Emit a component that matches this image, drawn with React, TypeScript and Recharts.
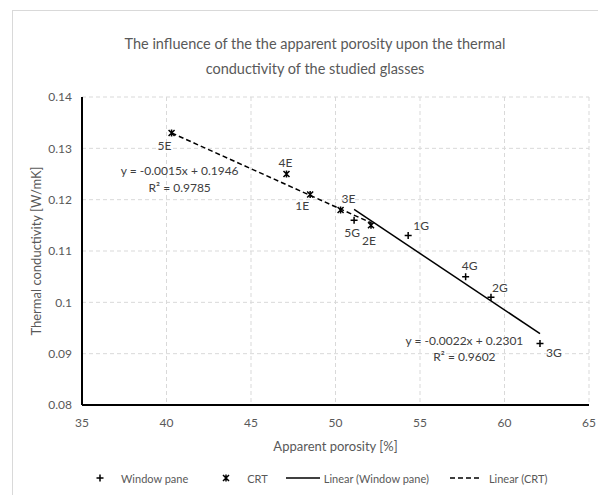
import { ScatterChart, Scatter, XAxis, YAxis, CartesianGrid, Legend, ReferenceDot } from 'recharts';

// Window pane glasses (G)
const windowPaneNames = ['1G', '2G', '3G', '4G', '5G'];
const windowPanePorosity = [54.3, 59.2, 62.1, 57.7, 51.1];
const windowPaneConductivity = [0.113, 0.101, 0.092, 0.105, 0.116];

// CRT glasses (E)
const crtNames = ['1E', '2E', '3E', '4E', '5E'];
const crtPorosity = [48.5, 52.1, 50.3, 47.1, 40.3];
const crtConductivity = [0.121, 0.115, 0.118, 0.125, 0.133];

// trend line end points
const windowPaneTrendX = [51.1, 62.1];
const windowPaneTrendY = [0.1181, 0.0939];
const crtTrendX = [40.3, 52.1];
const crtTrendY = [0.133, 0.1155];

const xTicks = [35, 40, 45, 50, 55, 60, 65];
const yTicks = [0.08, 0.09, 0.1, 0.11, 0.12, 0.13, 0.14];

const equationLines = [
  { x: 40.78, y: 0.1256, text: 'y = -0.0015x + 0.1946' },
  { x: 40.78, y: 0.1224, text: 'R² = 0.9785' },
  { x: 57.63, y: 0.0925, text: 'y = -0.0022x + 0.2301' },
  { x: 57.63, y: 0.0894, text: 'R² = 0.9602' },
];

const toPoints = (names: string[] | null, xs: number[], ys: number[]) =>
  xs.map((x, i) => ({ name: names ? names[i] : '', x, y: ys[i] }));

const windowPane = toPoints(windowPaneNames, windowPanePorosity, windowPaneConductivity);
const crt = toPoints(crtNames, crtPorosity, crtConductivity);
const windowPaneTrend = toPoints(null, windowPaneTrendX, windowPaneTrendY);
const crtTrend = toPoints(null, crtTrendX, crtTrendY);

// where each point label sits relative to its marker (px)
const labelOffset: Record<string, [number, number]> = {
  '5E': [-7, 13],
  '4E': [-1, -12],
  '1E': [-8, 11],
  '3E': [8, -11],
  '5G': [-2, 12],
  '2E': [-2, 15],
  '1G': [13, -10],
  '4G': [4, -11],
  '2G': [9, -10],
  '3G': [14, 9],
};

const TEXT = '#404040';
const GREY = '#595959';

const pointLabel = (cx: number, cy: number, name: string) => {
  const [dx, dy] = labelOffset[name] || [0, 0];
  return (
    <text x={cx + dx} y={cy + dy} textAnchor="middle" dominantBaseline="central" fontSize={12} fill={TEXT}>
      {name}
    </text>
  );
};

const PlusMarker = (props: any) => {
  const { cx, cy, payload } = props;
  return (
    <g>
      <path d={`M${cx - 3.5},${cy}H${cx + 3.5}M${cx},${cy - 3.5}V${cy + 3.5}`} stroke="#000" strokeWidth={1.5} />
      {pointLabel(cx, cy, payload.name)}
    </g>
  );
};

const StarMarker = (props: any) => {
  const { cx, cy, payload } = props;
  return (
    <g>
      <path
        d={`M${cx - 3},${cy - 3}L${cx + 3},${cy + 3}M${cx + 3},${cy - 3}L${cx - 3},${cy + 3}M${cx},${cy - 3.5}V${cy + 3.5}`}
        stroke="#000"
        strokeWidth={1.5}
      />
      {pointLabel(cx, cy, payload.name)}
    </g>
  );
};

const NoMarker = () => <g />;

const renderLegend = () => (
  <div style={{ display: 'flex', alignItems: 'center', fontSize: 11, color: GREY, paddingLeft: 87, height: 30 }}>
    <svg width={10} height={10} style={{ marginRight: 16 }}>
      <path d="M1.5,5H8.5M5,1.5V8.5" stroke="#000" strokeWidth={1.5} />
    </svg>
    <span style={{ marginRight: 33 }}>Window pane</span>
    <svg width={10} height={10} style={{ marginRight: 16 }}>
      <path d="M2,2L8,8M8,2L2,8M5,1.5V8.5" stroke="#000" strokeWidth={1.5} />
    </svg>
    <span style={{ marginRight: 18 }}>CRT</span>
    <svg width={34} height={10} style={{ marginRight: 4 }}>
      <line x1={0} y1={5} x2={34} y2={5} stroke="#000" strokeWidth={1.5} />
    </svg>
    <span style={{ marginRight: 21 }}>Linear (Window pane)</span>
    <svg width={32} height={10} style={{ marginRight: 7 }}>
      <line x1={0} y1={5} x2={32} y2={5} stroke="#000" strokeWidth={1.5} strokeDasharray="5 3" />
    </svg>
    <span>Linear (CRT)</span>
  </div>
);

export default function App() {
  return (
    <div
      style={{
        position: 'absolute',
        left: 8,
        top: 8,
        width: 590,
        height: 487,
        overflow: 'hidden',
        background: '#fff',
        fontFamily: 'Lato, sans-serif',
      }}
    >
      <div style={{ position: 'absolute', left: 4, top: 2, width: 700, height: 700, border: '1px solid #d9d9d9' }} />
      <div
        style={{
          position: 'absolute',
          left: 0,
          top: 23,
          width: 614,
          textAlign: 'center',
          fontSize: 14.5,
          lineHeight: '25px',
          color: GREY,
        }}
      >
        The influence of the the apparent porosity upon the thermal
        <br />
        conductivity of the studied glasses
      </div>
      <div style={{ position: 'absolute', left: 0, top: 0 }}>
        <ScatterChart width={590} height={487} margin={{ top: 89, right: 9, left: 0, bottom: 10 }}>
          <CartesianGrid stroke="#d9d9d9" strokeDasharray="4 3" />
          <XAxis
            type="number"
            dataKey="x"
            domain={[35, 65]}
            ticks={xTicks}
            interval={0}
            axisLine={{ stroke: '#000', strokeWidth: 2 }}
            tickLine={false}
            tickSize={10}
            tickMargin={3}
            tick={{ fontSize: 12, fill: GREY }}
            height={50}
            label={{ value: 'Apparent porosity [%]', position: 'insideBottom', offset: 4, style: { fontSize: 13, fill: GREY } }}
          />
          <YAxis
            type="number"
            dataKey="y"
            domain={[0.08, 0.14]}
            ticks={yTicks}
            interval={0}
            axisLine={{ stroke: '#000', strokeWidth: 2 }}
            tickLine={false}
            tickSize={8}
            tickMargin={2}
            tick={{ fontSize: 12, fill: GREY }}
            width={74}
            label={{
              value: 'Thermal conductivity [W/mK]',
              angle: -90,
              position: 'insideLeft',
              offset: 28,
              style: { textAnchor: 'middle', fontSize: 13, fill: GREY },
            }}
          />
          <Legend verticalAlign="bottom" height={30} content={renderLegend} wrapperStyle={{ bottom: 2 }} />
          <Scatter
            name="Linear (CRT)"
            data={crtTrend}
            shape={NoMarker}
            line={{ stroke: '#000', strokeWidth: 1.5, strokeDasharray: '5 3' }}
            isAnimationActive={false}
          />
          <Scatter
            name="Linear (Window pane)"
            data={windowPaneTrend}
            shape={NoMarker}
            line={{ stroke: '#000', strokeWidth: 1.5 }}
            isAnimationActive={false}
          />
          <Scatter name="Window pane" data={windowPane} shape={PlusMarker} isAnimationActive={false} />
          <Scatter name="CRT" data={crt} shape={StarMarker} isAnimationActive={false} />
          {equationLines.map((e) => (
            <ReferenceDot
              key={e.text}
              x={e.x}
              y={e.y}
              ifOverflow="visible"
              shape={(p: any) => (
                <text x={p.cx} y={p.cy} textAnchor="middle" dominantBaseline="central" fontSize={12} fill={TEXT}>
                  {e.text}
                </text>
              )}
            />
          ))}
        </ScatterChart>
      </div>
    </div>
  );
}
